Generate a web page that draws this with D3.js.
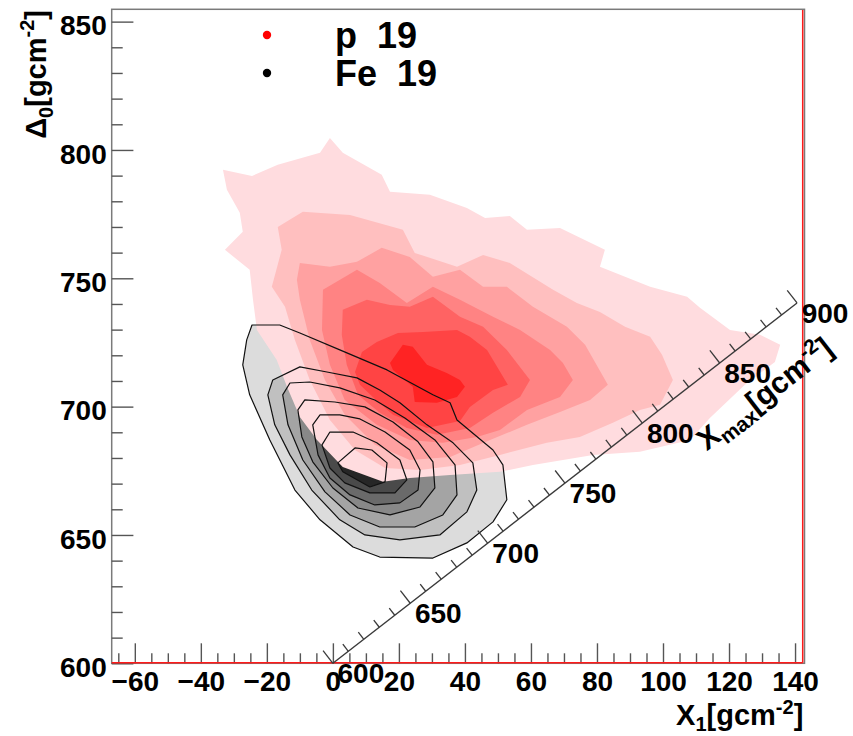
<!DOCTYPE html>
<html>
<head>
<meta charset="utf-8">
<script src="https://cdn.jsdelivr.net/npm/d3@7"></script>
<style>
  body { margin: 0; background: #ffffff; }
  svg { display: block; font-family: "Liberation Sans", Arial, Helvetica, sans-serif; font-weight: bold; }
</style>
</head>
<body>
<svg id="chart" width="853" height="736"></svg>
<script>
// ---- axis ranges and ticks ----
const x1Domain = [-67, 142.5];
const d0Domain = [600, 854.8];
const x1MajorTicks = [-60, -40, -20, 0, 20, 40, 60, 80, 100, 120, 140];
const d0MajorTicks = [600, 650, 700, 750, 800, 850];
const xmaxMajorTicks = [600, 650, 700, 750, 800, 850, 900];
const xmaxRange = [600, 900];
// the Xmax axis is laid across the (X1, Δ0) plane between these two points
const xmaxAxisFrom = [0, 600];
const xmaxAxisTo = [140.6, 740.4];

// ---- legend ----
const legendLabels = ["p\u00a0\u00a019", "Fe\u00a0\u00a019"];

// ---- proton contours, outermost level first: [X1, Δ0] ----
const protonLevel1 = [[-33.3,792.3],[-24.5,789.9],[-16.7,794.2],[-3.9,798.9],[-0.9,804.7],[3.0,798.9],[14.8,790.3],[17.3,783.7],[29.4,782.5],[40.6,777.4],[46.1,773.5],[53.6,774.3],[58.8,768.9],[68.8,769.6],[82.4,761.1],[80.9,754.5],[96.1,746.7],[107.3,742.8],[111.2,738.5],[120.3,729.9],[129.4,728.0],[135.5,724.1],[133.9,717.4],[124.8,708.5],[114.2,695.6],[108.2,687.0],[93.0,682.4],[78.8,681.2],[60.6,677.3],[50.6,674.6],[35.5,673.4],[23.3,672.2],[15.2,670.7],[3.0,676.5],[-4.8,687.0],[-10.0,696.0],[-13.9,707.7],[-17.0,718.2],[-23.0,729.9],[-24.2,741.6],[-25.2,753.3],[-32.7,761.1],[-27.3,768.1],[-28.2,775.5],[-32.1,784.5]];
const protonLevel2 = [[-16.7,770.0],[-9.1,775.9],[5.2,774.7],[21.2,768.9],[24.8,759.9],[37.6,754.5],[45.5,759.1],[53.6,756.0],[66.7,745.5],[73.9,740.4],[80.9,736.9],[88.5,731.1],[96.1,727.2],[99.7,720.2],[103.0,710.4],[99.1,700.7],[93.0,698.7],[84.8,693.7],[74.8,688.2],[64.8,685.9],[50.6,681.2],[38.5,677.3],[26.4,675.3],[15.8,676.1],[6.7,683.1],[-0.9,694.8],[-7.0,710.4],[-11.5,726.0],[-14.5,738.9],[-18.5,746.7],[-15.5,761.1]];
const protonLevel3 = [[-10.0,756.0],[-0.9,754.5],[7.3,756.4],[14.8,761.9],[23.3,758.3],[30.3,750.6],[38.5,753.3],[45.5,746.7],[52.7,746.7],[60.6,738.9],[70.9,731.1],[76.4,724.1],[83.3,708.5],[77.9,702.6],[68.8,697.9],[58.8,692.9],[47.6,687.0],[35.5,680.4],[23.3,679.2],[12.7,685.1],[3.6,696.8],[-2.4,710.4],[-7.0,726.0],[-10.0,741.6],[-10.9,749.4]];
const protonLevel4 = [[-3.0,745.5],[7.3,753.3],[14.2,748.2],[22.4,740.4],[30.3,746.7],[38.5,741.6],[48.5,735.0],[56.7,729.9],[65.8,722.1],[69.7,717.0],[72.7,710.4],[68.8,703.8],[58.8,698.7],[50.6,690.9],[43.6,688.2],[33.3,685.9],[23.3,687.0],[13.3,692.9],[3.6,702.6],[-0.9,716.3],[-3.3,729.9]];
const protonLevel5 = [[3.0,737.7],[10.3,741.6],[17.3,739.6],[23.3,738.9],[30.3,742.8],[38.5,735.0],[45.5,731.1],[52.7,722.1],[59.7,710.4],[56.7,703.8],[48.5,697.6],[41.5,691.7],[31.5,689.0],[22.4,691.7],[14.2,697.6],[7.6,704.6],[4.2,716.3],[2.7,727.9]];
const protonLevel6 = [[6.7,713.5],[8.8,721.3],[13.3,725.2],[19.7,728.7],[27.3,729.1],[37.6,729.9],[41.5,727.2],[46.7,722.1],[53.0,708.5],[48.5,706.5],[41.5,699.9],[38.5,694.4],[28.5,691.7],[18.2,696.8],[12.1,703.8],[8.2,708.5]];
const protonLevel7 = [[17.3,717.0],[21.2,724.1],[24.2,723.3],[28.5,716.3],[34.5,713.1],[38.5,710.4],[40.0,707.7],[37.6,703.8],[31.5,701.5],[24.8,701.8],[24.2,707.7],[18.2,714.3]];

// ---- iron contours, outermost level first: [X1, Δ0] ----
const ironLevel1 = [[-24.5,731.8],[-16.1,731.8],[-10.0,728.7],[2.1,722.1],[16.4,714.3],[30.3,704.6],[35.5,701.5],[37.6,694.8],[48.5,683.1],[51.5,677.3],[52.7,663.7],[48.5,655.1],[40.6,646.9],[30.3,641.0],[14.2,641.4],[6.1,645.3],[-3.9,655.9],[-11.5,667.5],[-19.1,687.0],[-25.2,704.6],[-27.3,716.3],[-26.1,726.0]];
const ironLevel2 = [[-19.7,704.6],[-18.2,710.4],[-10.0,715.5],[-1.8,713.5],[7.3,711.2],[14.2,706.5],[20.3,701.5],[28.5,692.9],[36.4,685.9],[42.4,678.1],[43.6,667.5],[40.6,659.0],[32.4,650.0],[20.3,648.1],[9.7,650.0],[2.1,655.9],[-6.4,667.5],[-13.0,681.2],[-17.6,692.9]];
const ironLevel3 = [[-15.2,704.6],[-13.0,709.2],[-7.0,709.6],[2.1,707.3],[12.7,702.6],[21.8,695.6],[30.9,687.0],[37.0,677.3],[37.6,665.6],[33.3,657.8],[24.8,653.1],[14.2,653.1],[5.2,657.8],[-2.4,666.8],[-9.1,679.2],[-13.6,692.9]];
const ironLevel4 = [[-10.6,698.7],[-8.5,702.6],[0.6,701.8],[9.7,699.9],[18.2,694.0],[25.8,686.3],[30.3,678.5],[30.9,668.3],[26.4,660.9],[17.3,657.8],[7.6,660.5],[0.0,668.3],[-6.1,678.5],[-9.4,688.2]];
const ironLevel5 = [[-6.1,692.9],[-3.9,696.8],[2.1,696.8],[8.2,695.2],[15.8,690.1],[23.3,683.1],[26.4,675.3],[25.8,667.5],[20.3,662.5],[12.7,661.7],[5.2,665.6],[-0.9,672.2],[-4.5,681.2]];
const ironLevel6 = [[-3.3,685.1],[-0.9,690.1],[6.1,690.1],[13.3,685.9],[20.3,679.2],[22.4,671.5],[18.8,666.4],[11.2,666.4],[3.6,670.3],[-0.9,676.1]];
const ironLevel7 = [[1.5,678.1],[6.7,683.9],[11.8,683.1],[16.4,678.1],[15.8,670.7],[11.2,668.7],[3.0,674.6]];

const protonLevels = [protonLevel1, protonLevel2, protonLevel3, protonLevel4, protonLevel5, protonLevel6, protonLevel7];
const ironLevels = [ironLevel1, ironLevel2, ironLevel3, ironLevel4, ironLevel5, ironLevel6, ironLevel7];

// ---- palettes ----
const protonPalette = ["#ffdcdf", "#ffbfbf", "#ffa1a1", "#ff8383", "#ff6363", "#ff4444", "#ff2323"];
const ironPalette = ["#dcdcdc", "#c0c0c0", "#a4a4a4", "#888888", "#6a6a6a", "#4a4a4a", "#262626"];
const legendColors = ["#ff0000", "#000000"];

// ---- layout ----
const frame = { left: 111.7, right: 803.3, top: 9.3, bottom: 663.3 };

const svg = d3.select("#chart");
const x = d3.scaleLinear().domain(x1Domain).range([frame.left, frame.right]);
const y = d3.scaleLinear().domain(d0Domain).range([frame.bottom, frame.top]);

svg.append("defs").append("clipPath").attr("id", "plotClip")
  .append("rect")
  .attr("x", frame.left).attr("y", frame.top)
  .attr("width", frame.right - frame.left).attr("height", frame.bottom - frame.top);

const contourPath = d3.line().x(d => x(d[0])).y(d => y(d[1])).curve(d3.curveLinearClosed);
const plot = svg.append("g").attr("clip-path", "url(#plotClip)");

// iron filled bands
plot.append("g").selectAll("path").data(ironLevels).join("path")
  .attr("d", contourPath)
  .attr("fill", (d, i) => ironPalette[i]);

// proton filled bands on top
plot.append("g").selectAll("path").data(protonLevels).join("path")
  .attr("d", contourPath)
  .attr("fill", (d, i) => protonPalette[i]);

// iron contour lines over everything
plot.append("g").selectAll("path").data(ironLevels).join("path")
  .attr("d", contourPath)
  .attr("fill", "none")
  .attr("stroke", "#111")
  .attr("stroke-width", 1.2)
  .attr("stroke-linejoin", "round");

// ---- frame ----
svg.append("rect")
  .attr("x", frame.left).attr("y", frame.top)
  .attr("width", frame.right + 1.2 - frame.left).attr("height", frame.bottom - frame.top)
  .attr("fill", "none").attr("stroke", "#7a7a7a").attr("stroke-width", 1.5);

// ---- bottom axis ----
const tickColor = "#555";
const labelSize = 28;
const minorX = d3.range(-65, 141, 5).filter(v => !x1MajorTicks.includes(v));
const gxMinor = svg.append("g").attr("transform", `translate(0,${frame.bottom})`)
  .call(d3.axisBottom(x).tickValues(minorX).tickSize(-10).tickFormat(""));
const gx = svg.append("g").attr("transform", `translate(0,${frame.bottom})`)
  .call(d3.axisBottom(x).tickValues(x1MajorTicks).tickSize(-20).tickPadding(7.5).tickFormat(d3.format("d")));

// ---- left axis ----
const minorY = d3.range(600, 855, 10).filter(v => !d0MajorTicks.includes(v));
const gyMinor = svg.append("g").attr("transform", `translate(${frame.left},0)`)
  .call(d3.axisLeft(y).tickValues(minorY).tickSize(-11).tickFormat(""));
const gy = svg.append("g").attr("transform", `translate(${frame.left},0)`)
  .call(d3.axisLeft(y).tickValues(d0MajorTicks).tickSize(-21.7).tickPadding(5).tickFormat(d3.format("d")));

[gxMinor, gx, gyMinor, gy].forEach(g => {
  g.select(".domain").remove();
  g.selectAll(".tick line").attr("stroke", tickColor).attr("stroke-width", 1.4);
  g.selectAll("text").attr("fill", "#000").attr("font-size", labelSize)
    .attr("font-family", "Liberation Sans, Arial, sans-serif").attr("font-weight", "bold");
});
gy.selectAll("text").attr("dy", "0.47em");

// red edges of the histogram frame
svg.append("line").attr("x1", frame.left).attr("x2", frame.right - 0.6)
  .attr("y1", frame.bottom - 0.6).attr("y2", frame.bottom - 0.6)
  .attr("stroke", "#ff1a1a").attr("stroke-width", 1.5);
svg.append("line").attr("x1", frame.right - 0.6).attr("x2", frame.right - 0.6)
  .attr("y1", frame.top + 0.8).attr("y2", frame.bottom - 0.6)
  .attr("stroke", "#ff1a1a").attr("stroke-width", 1.5);

// ---- Xmax axis across the plane ----
const p0 = [x(xmaxAxisFrom[0]), y(xmaxAxisFrom[1])];
const p1 = [x(xmaxAxisTo[0]), y(xmaxAxisTo[1])];
const ux = p1[0] - p0[0], uy = p1[1] - p0[1];
const ulen = Math.hypot(ux, uy);
const dir = [ux / ulen, uy / ulen];
const perp = [dir[1], -dir[0]];          // points up-left, where the ticks go
const xm = d3.scaleLinear().domain(xmaxRange).range([0, ulen]);
const along = v => [p0[0] + dir[0] * xm(v), p0[1] + dir[1] * xm(v)];
const angle = Math.atan2(uy, ux) * 180 / Math.PI;

const gm = svg.append("g");
gm.append("line").attr("x1", p0[0]).attr("y1", p0[1]).attr("x2", p1[0]).attr("y2", p1[1])
  .attr("stroke", "#3a3a3a").attr("stroke-width", 1.4);
gm.selectAll("line.tk").data(d3.range(xmaxRange[0], xmaxRange[1] + 1, 10)).join("line")
  .attr("class", "tk")
  .each(function (v) {
    const p = along(v);
    const len = xmaxMajorTicks.includes(v) ? 16 : 9;
    d3.select(this).attr("x1", p[0]).attr("y1", p[1])
      .attr("x2", p[0] + perp[0] * len).attr("y2", p[1] + perp[1] * len);
  })
  .attr("stroke", "#3a3a3a").attr("stroke-width", 1.3);
gm.selectAll("text.tl").data(xmaxMajorTicks).join("text")
  .attr("class", "tl")
  .attr("x", v => along(v)[0] + 28)
  .attr("y", v => along(v)[1] + 20)
  .attr("text-anchor", "middle")
  .attr("font-size", labelSize)
  .text(d3.format("d"));

// axis title laid along the Xmax axis
const titleBase = along(817);
const titlePos = [titleBase[0] - perp[0] * 62, titleBase[1] - perp[1] * 62];
const tm = gm.append("text")
  .attr("transform", `translate(${titlePos[0]},${titlePos[1]}) rotate(${angle})`)
  .attr("font-size", 30);
tm.append("tspan").text("X");
tm.append("tspan").attr("font-size", 21).attr("dy", 7).text("max");
tm.append("tspan").attr("dy", -7).text("[gcm");
tm.append("tspan").attr("font-size", 21).attr("dy", -12).text("-2");
tm.append("tspan").attr("dy", 12).text("]");

// ---- axis titles ----
const tx = svg.append("text")
  .attr("x", frame.right).attr("y", 725).attr("text-anchor", "end").attr("font-size", 29);
tx.append("tspan").text("X");
tx.append("tspan").attr("font-size", 20).attr("dy", 6).text("1");
tx.append("tspan").attr("dy", -6).text("[gcm");
tx.append("tspan").attr("font-size", 20).attr("dy", -11).text("-2");
tx.append("tspan").attr("dy", 11).text("]");

const ty = svg.append("text")
  .attr("transform", "translate(46,10) rotate(-90)").attr("text-anchor", "end").attr("font-size", 29);
ty.append("tspan").text("\u0394");
ty.append("tspan").attr("font-size", 20).attr("dy", 7).text("0");
ty.append("tspan").attr("dy", -7).text("[gcm");
ty.append("tspan").attr("font-size", 20).attr("dy", -12).text("-2");
ty.append("tspan").attr("dy", 12).text("]");

// ---- legend ----
const lg = svg.append("g");
legendLabels.forEach((label, i) => {
  const cy = 35 + i * 38;
  lg.append("circle").attr("cx", 267).attr("cy", cy).attr("r", 4.2).attr("fill", legendColors[i]);
  lg.append("text").attr("x", 335).attr("y", cy + 13).attr("font-size", 36).text(label);
});
</script>
</body>
</html>
